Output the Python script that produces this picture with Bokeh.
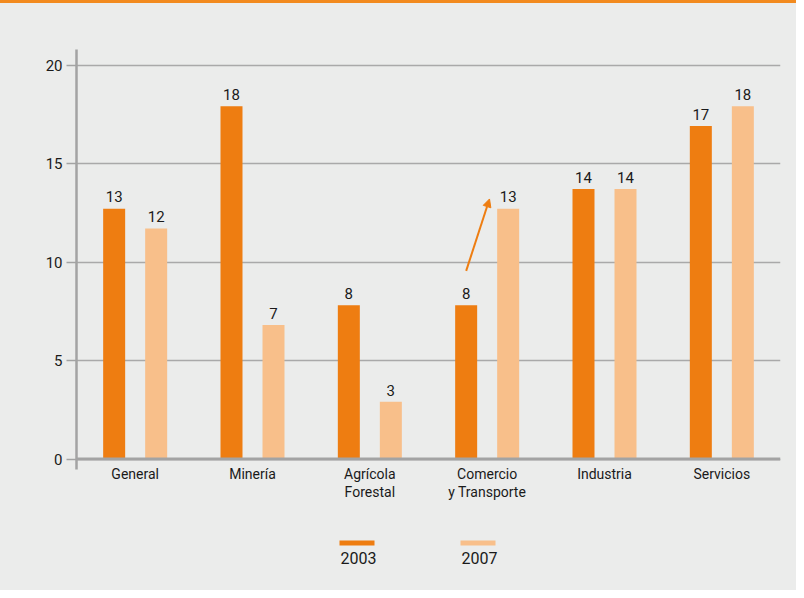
from bokeh.plotting import figure
from bokeh.models import (ColumnDataSource, FactorRange, Range1d, Span, Arrow,
                          NormalHead, FixedTicker, Div)
from bokeh.transform import dodge
from bokeh.layouts import column
from bokeh.core.properties import value
from bokeh.embed import file_html
from bokeh.resources import INLINE

# ---------------- data ----------------
categories = ["General", "Minería", "Agrícola\nForestal",
              "Comercio\ny Transporte", "Industria", "Servicios"]
series = ["2003", "2007"]
values_2003 = [12.7, 17.9, 7.8, 7.8, 13.7, 16.9]
values_2007 = [11.7, 6.8, 2.9, 12.7, 13.7, 17.9]
labels_2003 = ["13", "18", "8", "8", "14", "17"]
labels_2007 = ["12", "7", "3", "13", "14", "18"]
y_ticks = [0, 5, 10, 15, 20]
arrow_category = "Comercio\ny Transporte"

# ---------------- style ----------------
FONT = "Roboto"
BG = "#ebeceb"
C03 = "#ee7d11"
C07 = "#f8bf8a"
AX = "#a3a3a3"
TXT = "#1a1a1a"
ORANGE_LINE = "#f28a1e"
W = 796
BL, BR = 76, 16
OFF = 0.179
BW = 0.1875
LABEL_LIFT = 0.6   # gap between bar top and its value label, in y units

src = ColumnDataSource(dict(cat=categories, v03=values_2003, v07=values_2007,
                            l03=labels_2003, l07=labels_2007))

p = figure(x_range=FactorRange(*categories, range_padding=0),
           y_range=Range1d(-0.533, 20.787),
           width=W, height=519, output_backend="svg", toolbar_location=None,
           min_border_left=BL, min_border_right=BR, min_border_top=46,
           min_border_bottom=53, background_fill_color=BG, border_fill_color=BG,
           outline_line_color=None)

p.vbar(x=dodge("cat", -OFF, range=p.x_range), top="v03", width=BW, source=src,
       fill_color=C03, line_color=None)
p.vbar(x=dodge("cat", OFF, range=p.x_range), top="v07", width=BW, source=src,
       fill_color=C07, line_color=None)

for key, lab, off in (("v03", "l03", -OFF), ("v07", "l07", OFF)):
    p.text(x=dodge("cat", off, range=p.x_range),
           y=dodge(key, LABEL_LIFT, range=p.y_range), text=lab, source=src,
           text_align="center", text_baseline="alphabetic",
           text_font=value(FONT), text_font_size="15px", text_color=TXT)

p.add_layout(Span(location=0, dimension="width", line_color=AX, line_width=3))

# arrow (Comercio: from 2003 towards 2007)
i = categories.index(arrow_category)
p.add_layout(Arrow(x_start=i + 0.5 - OFF, y_start=values_2003[i] + 1.75,
                   x_end=i + 0.5 + 0.02, y_end=values_2007[i] + 0.5,
                   line_color=C03, line_width=2,
                   end=NormalHead(size=8, fill_color=C03, line_color=C03)))

# axes
p.yaxis.ticker = FixedTicker(ticks=y_ticks)
p.yaxis.axis_line_color = AX
p.yaxis.axis_line_width = 2.5
p.yaxis.major_tick_out = 10
p.yaxis.major_tick_in = 0
p.yaxis.major_tick_line_color = AX
p.yaxis.major_tick_line_width = 1.5
p.yaxis.minor_tick_line_color = None
p.yaxis.major_label_standoff = 4
p.yaxis.major_label_text_font = FONT
p.yaxis.major_label_text_font_size = "15px"
p.yaxis.major_label_text_color = TXT

p.xaxis.axis_line_color = None
p.xaxis.major_tick_line_color = None
p.xaxis.major_tick_out = 0
p.xaxis.major_tick_in = 0
p.xaxis.minor_tick_line_color = None
p.xaxis.major_label_standoff = -4
p.xaxis.major_label_text_font = FONT
p.xaxis.major_label_text_font_size = "14px"
p.xaxis.major_label_text_color = TXT
p.xaxis.major_label_text_line_height = 1.15

p.ygrid.ticker = FixedTicker(ticks=y_ticks)
p.ygrid.grid_line_color = "#a9a9a9"
p.ygrid.grid_line_width = 1.5
p.xgrid.grid_line_color = None

# ---------------- legend strip (x in px from figure's left edge) ----------------
lf = figure(width=W, height=68, x_range=Range1d(BL, W - BR), y_range=Range1d(0, 68),
            x_axis_type=None, y_axis_type=None, output_backend="svg",
            toolbar_location=None, min_border_left=BL, min_border_right=BR,
            min_border_top=0, min_border_bottom=0,
            background_fill_color=None, border_fill_color=BG,
            outline_line_color=None)
lf.xgrid.grid_line_color = None
lf.ygrid.grid_line_color = None
LEG_X0 = 339
LEG_DX = 121
xs = [LEG_X0 + k * LEG_DX for k in range(len(series))]
lf.quad(left=xs, right=[x + 35 for x in xs], top=[50] * len(xs),
        bottom=[45] * len(xs), fill_color=[C03, C07], line_color=None)
lf.text(x=[x + 1 for x in xs], y=[39] * len(xs), text=series,
        text_baseline="top", text_align="left", text_font=value(FONT),
        text_font_size="16px", text_color=TXT)

bar = Div(text="", width=W, height=3, margin=0,
          styles={"background-color": ORANGE_LINE})

layout = column(bar, p, lf, spacing=0, styles={"background-color": BG})
open("out.html", "w").write(file_html(layout, INLINE))
